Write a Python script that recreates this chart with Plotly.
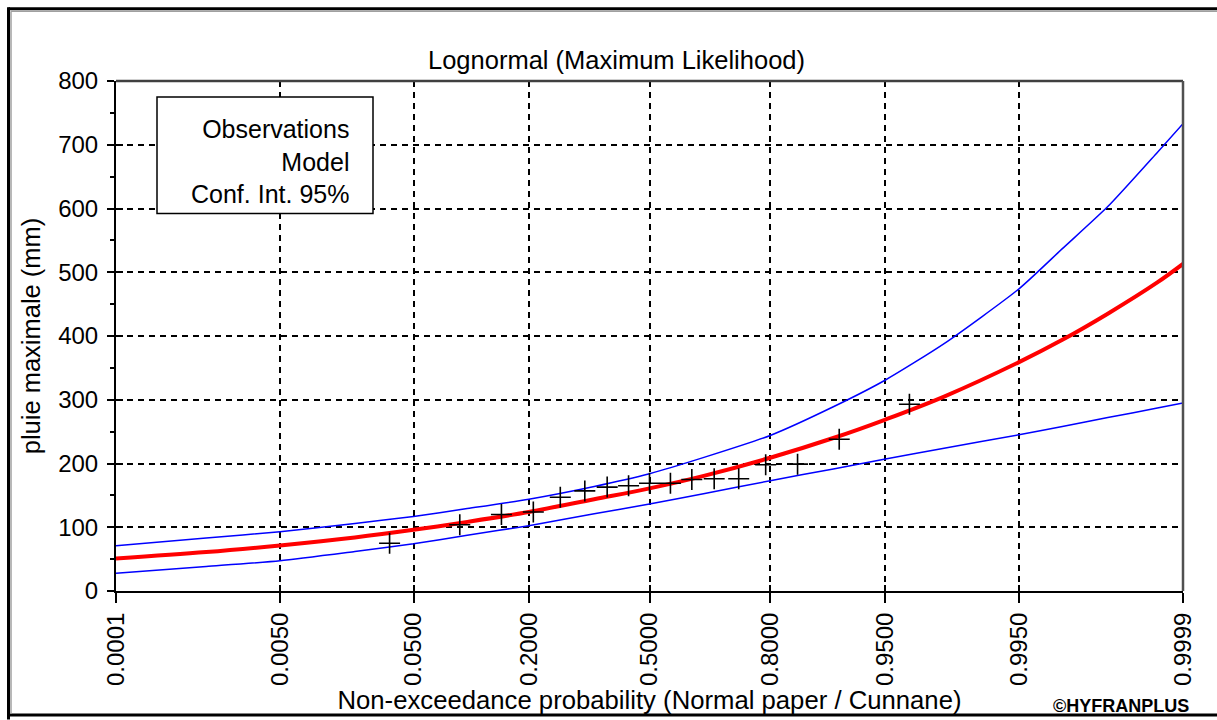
import plotly.graph_objects as go
from statistics import NormalDist

# ---------------- data ----------------
tick_probs = [0.0001, 0.0050, 0.0500, 0.2000, 0.5000, 0.8000, 0.9500, 0.9950, 0.9999]
tick_labels = ["0.0001", "0.0050", "0.0500", "0.2000", "0.5000", "0.8000", "0.9500", "0.9950", "0.9999"]

obs_prob = [0.035, 0.093, 0.151, 0.209, 0.267, 0.326, 0.384, 0.442, 0.500,
            0.558, 0.616, 0.674, 0.733, 0.791, 0.849, 0.907, 0.965]
obs_value = [75, 104, 120, 124, 147, 157, 163, 165, 169,
             169, 175, 176, 176, 198, 199, 238, 293]

curve_prob = [0.0001, 0.001, 0.005, 0.02, 0.05, 0.1, 0.2, 0.35, 0.5, 0.65,
              0.8, 0.9, 0.95, 0.98, 0.995, 0.998, 0.9993, 0.9998, 0.9999]
model_value = [51, 61, 71.5, 84, 96, 108, 124, 144, 161, 181,
               209, 240, 269, 305, 359, 394, 435, 484, 513]
ci_upper = [71, 83, 93, 106, 117, 129, 144, 164, 184, 210,
            244, 289, 331, 388, 474, 537, 603, 688, 733]
ci_lower = [28, 38.5, 47.5, 62, 74, 87, 102.5, 121, 136.5, 153,
            173, 191.5, 207, 224, 245, 258, 272, 287, 295]

y_range = [0, 800]

# ---------------- helpers ----------------
nd = NormalDist()


def zval(ps):
    return [nd.inv_cdf(p) for p in ps]


W, H = 1217, 720
PL, PR, PT, PB = 116, 1183, 81, 593


def px_x(px):
    return (px - PL) / (PR - PL)


def px_y(py):
    return (PB - py) / (PB - PT)


xr = [nd.inv_cdf(tick_probs[0]), nd.inv_cdf(tick_probs[-1])]
FONT = "Liberation Sans, Arial, sans-serif"

fig = go.Figure()
fig.add_trace(go.Scatter(x=zval(curve_prob), y=ci_lower, mode="lines",
                         line=dict(color="#0000ff", width=1.5, shape="spline", smoothing=0.6),
                         name="Conf. Int. 95%", showlegend=False))
fig.add_trace(go.Scatter(x=zval(curve_prob), y=ci_upper, mode="lines",
                         line=dict(color="#0000ff", width=1.5, shape="spline", smoothing=0.6),
                         name="Conf. Int. 95%", showlegend=False))
fig.add_trace(go.Scatter(x=zval(curve_prob), y=model_value, mode="lines",
                         line=dict(color="#ff0000", width=4, shape="spline"),
                         name="Model", showlegend=False))
fig.add_trace(go.Scatter(x=zval(obs_prob), y=obs_value, mode="markers",
                         marker=dict(symbol="cross-thin", size=15,
                                     line=dict(color="black", width=1.6)),
                         name="Observations", showlegend=False))
# empty traces to host the overlay axes (inner tick marks)
fig.add_trace(go.Scatter(x=[], y=[], xaxis="x2", yaxis="y", showlegend=False, hoverinfo="skip"))
fig.add_trace(go.Scatter(x=[], y=[], xaxis="x", yaxis="y2", showlegend=False, hoverinfo="skip"))

tickvals = zval(tick_probs)

fig.update_layout(
    width=W, height=H,
    margin=dict(l=PL, r=W - PR, t=PT, b=H - PB),
    paper_bgcolor="white", plot_bgcolor="white",
    font=dict(family=FONT, color="black", size=24),
    showlegend=False,
    title=dict(text="Lognormal (Maximum Likelihood)", x=616.5 / W, xanchor="center",
               y=1 - 60 / H, yanchor="middle", font=dict(size=25.5, family=FONT, color="black")),
    xaxis=dict(range=xr, tickmode="array", tickvals=tickvals, ticktext=tick_labels,
               tickangle=-90, ticks="outside", ticklen=10, tickwidth=1.5, tickcolor="black",
               showline=True, linecolor="black", linewidth=2,
               showgrid=True, gridcolor="black", gridwidth=1.5, griddash="6px,5px",
               zeroline=False, tickfont=dict(size=24),
               title=dict(text="Non-exceedance probability (Normal paper / Cunnane)",
                          font=dict(size=25.7), standoff=4)),
    xaxis2=dict(range=xr, overlaying="x", anchor="y", side="bottom", tickmode="array",
                tickvals=tickvals, ticks="inside", ticklen=6, tickwidth=1.5, tickcolor="black",
                showticklabels=False, showgrid=False, zeroline=False, showline=False,
                mirror="ticks"),
    yaxis=dict(range=y_range, tickmode="linear", tick0=0, dtick=100,
               ticks="outside", ticklen=7, tickwidth=1.5, tickcolor="black",
               showline=True, linecolor="black", linewidth=2,
               showgrid=True, gridcolor="black", gridwidth=1.5, griddash="6px,5px",
               zeroline=False, tickfont=dict(size=24), ticklabelstandoff=4,
               minor=dict(ticks="outside", ticklen=4, tickwidth=1.5, tickcolor="black",
                          dtick=50, showgrid=False),
               title=dict(text="pluie maximale (mm)", font=dict(size=25.5), standoff=10)),
    yaxis2=dict(range=y_range, overlaying="y", anchor="x", side="left", tickmode="linear",
                tick0=0, dtick=100, ticks="inside", ticklen=7, tickwidth=1.5, tickcolor="black",
                showticklabels=False, showgrid=False, zeroline=False, showline=False),
)

shapes = [
    # legend box
    dict(type="rect", xref="paper", yref="paper", x0=px_x(157), x1=px_x(373),
         y0=px_y(214), y1=px_y(97), line=dict(color="black", width=1.5),
         fillcolor="white", layer="above"),
    # top and right borders of the plot area
    dict(type="line", xref="paper", yref="paper", x0=0, x1=1, y0=1, y1=1,
         line=dict(color="#404040", width=2.5), layer="above"),
    dict(type="line", xref="paper", yref="paper", x0=1, x1=1, y0=0, y1=1,
         line=dict(color="#505050", width=2.5), layer="above"),
    # outer window frame
    dict(type="line", xref="paper", yref="paper", x0=px_x(8.5), x1=px_x(1230),
         y0=px_y(8.5), y1=px_y(8.5), line=dict(color="black", width=3)),
    dict(type="line", xref="paper", yref="paper", x0=px_x(8.5), x1=px_x(8.5),
         y0=px_y(7), y1=px_y(722), line=dict(color="black", width=3)),
    dict(type="line", xref="paper", yref="paper", x0=px_x(7), x1=px_x(1230),
         y0=px_y(717.5), y1=px_y(717.5), line=dict(color="black", width=3)),
    dict(type="line", xref="paper", yref="paper", x0=px_x(11), x1=px_x(1230),
         y0=px_y(11), y1=px_y(11), line=dict(color="#a0a0a0", width=1.5)),
    dict(type="line", xref="paper", yref="paper", x0=px_x(11), x1=px_x(11),
         y0=px_y(11), y1=px_y(716), line=dict(color="#a0a0a0", width=1.5)),
]
fig.update_layout(shapes=shapes)

fig.add_annotation(text="Observations<br>Model<br>Conf. Int. 95%", xref="paper", yref="paper",
                   x=px_x(351), y=px_y(162), xanchor="right", yanchor="middle", align="right",
                   showarrow=False, font=dict(size=25, family=FONT, color="black"))
fig.add_annotation(text="<b>©HYFRANPLUS</b>", xref="paper", yref="paper",
                   x=px_x(1191), y=px_y(708), xanchor="right", yanchor="middle",
                   showarrow=False, font=dict(size=18, family=FONT, color="black"))

fig.write_html("out.html", config={"displayModeBar": False},
               post_script="document.body.style.margin='0';document.body.style.overflow='hidden';")
